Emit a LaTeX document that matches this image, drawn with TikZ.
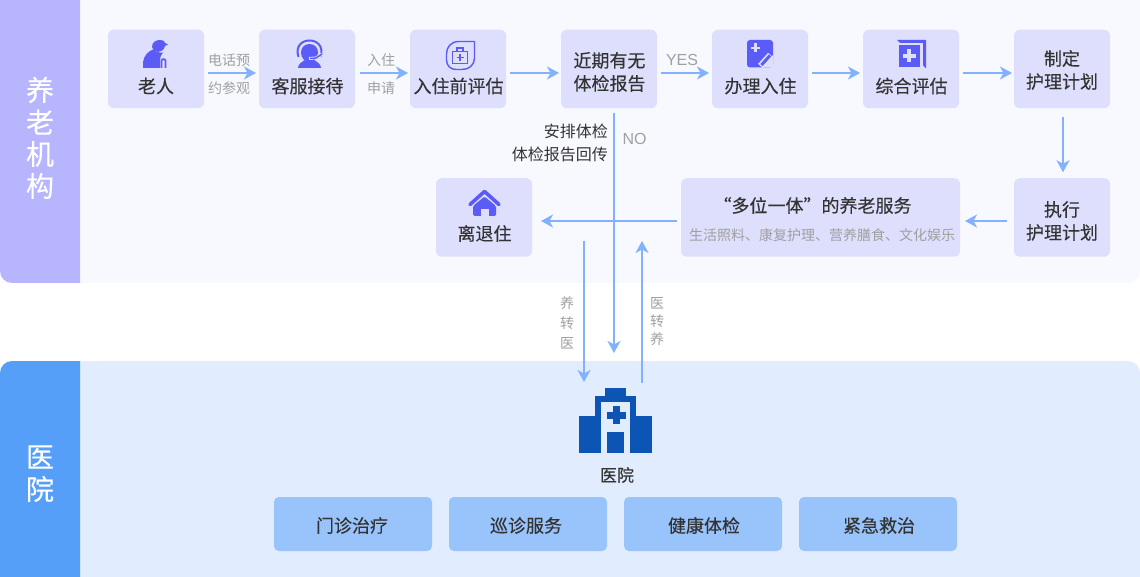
\documentclass[tikz,border=0pt]{standalone}
\usepackage{fontspec}
\setmainfont{Noto Sans CJK SC}
\newfontfamily\medfont{Noto Sans CJK SC}[FakeBold=0.22]
\newfontfamily\latinfont{Liberation Sans}
\usetikzlibrary{arrows.meta}
\definecolor{bandA}{HTML}{B8B5FF}
\definecolor{bandB}{HTML}{569FF9}
\definecolor{panelA}{HTML}{F8F9FF}
\definecolor{panelB}{HTML}{E1EDFF}
\definecolor{boxA}{HTML}{DEDEFD}
\definecolor{boxB}{HTML}{99C3FB}
\definecolor{iconA}{HTML}{5B5BF6}
\definecolor{iconB}{HTML}{0D55B5}
\definecolor{lineC}{HTML}{82B1FF}
\definecolor{inkA}{HTML}{333333}
\definecolor{inkB}{HTML}{A0A0A0}
\newcommand{\fs}[1]{\fontsize{#1pt}{#1pt}\selectfont}
\tikzset{
  x=1pt,y=-1pt,
  boxbase/.style={rectangle,rounded corners=6pt,inner sep=0pt,outer sep=0pt,fill=boxA},
  smallbox/.style={boxbase,minimum width=96pt,minimum height=78.5pt},
  btnbox/.style={rectangle,rounded corners=5pt,inner sep=0pt,fill=boxB,minimum width=158pt,minimum height=54pt},
  maintxt/.style={inner sep=0pt,text=inkA,font=\medfont\fs{18},align=center},
  grey/.style={inner sep=0pt,text=inkB,font=\fs{14}},
  greylatin/.style={inner sep=0pt,text=inkB,font=\latinfont\fs{16}},
  dark/.style={inner sep=0pt,text=inkA,font=\fs{16}},
  sidetxt/.style={inner sep=0pt,text=white,font=\medfont\fs{28}},
  conn/.style={draw=lineC,line width=1.8pt,-{Stealth[length=12pt,width=13pt,inset=3.5pt]}},
}
\begin{document}
\begin{tikzpicture}
\useasboundingbox (0,0) rectangle (1140,577);
\fill[white] (0,0) rectangle (1140,577);
% panels
\fill[panelA] (80,0) -- (1140,0) [rounded corners=12pt] -- (1140,283) [sharp corners] -- (80,283) -- cycle;
\fill[bandA] (80,0) -- (0,0) [rounded corners=12pt] -- (0,283) [sharp corners] -- (80,283) -- cycle;
\fill[panelB] (80,577) -- (1140,577) [rounded corners=12pt] -- (1140,361) [sharp corners] -- (80,361) -- cycle;
\fill[bandB] (80,577) -- (0,577) [rounded corners=12pt] -- (0,361) [sharp corners] -- (80,361) -- cycle;
% side labels
\node[sidetxt] (sa1) at (40,90) {养};
\node[sidetxt] (sa2) at (40,122) {老};
\node[sidetxt] (sa3) at (40,154) {机};
\node[sidetxt] (sa4) at (40,186) {构};
\node[sidetxt] (sb1) at (40,457) {医};
\node[sidetxt] (sb2) at (40,489) {院};
% top row
\node[smallbox] (elder) at (156,69) {};
\node[smallbox] (service) at (307,69) {};
\node[smallbox] (assess) at (458,69) {};
\node[smallbox] (recent) at (609,69) {};
\node[smallbox] (checkin) at (760,69) {};
\node[smallbox] (general) at (911,69) {};
\node[smallbox] (plan) at (1062,69) {};
\node[maintxt] (elderT) at (156,86) {老人};
\node[maintxt] (serviceT) at (307.5,86) {客服接待};
\node[maintxt] (assessT) at (458.5,86) {入住前评估};
\node[maintxt] (recentT) at (609.5,72) {近期有无\\[5pt]体检报告};
\node[maintxt] (checkinT) at (760.5,86) {办理入住};
\node[maintxt] (generalT) at (911.5,86) {综合评估};
\node[maintxt] (planT) at (1062,70) {制定\\[5pt]护理计划};
% second row
\node[smallbox] (leave) at (484,217.5) {};
\node[maintxt] (leaveT) at (484.5,233.5) {离退住};
\node[boxbase,minimum width=279pt,minimum height=78.5pt] (duo) at (820.5,217.5) {};
\node[maintxt] (duoT) at (812.5,205.5) {“多位一体”的养老服务};
\node[grey] (duoS) at (822,235) {生活照料、康复护理、营养膳食、文化娱乐};
\node[smallbox] (exec) at (1062,217.5) {};
\node[maintxt] (execT) at (1062,221) {执行\\[5pt]护理计划};
% hospital label + buttons
\node[maintxt,font=\medfont\fs{17}] (hospT) at (617,475) {医院};
\node[btnbox] (b1) at (353,524) {};
\node[btnbox] (b2) at (528,524) {};
\node[btnbox] (b3) at (703,524) {};
\node[btnbox] (b4) at (878,524) {};
\node[maintxt] (b1T) at (352,525.5) {门诊治疗};
\node[maintxt] (b2T) at (526,525.5) {巡诊服务};
\node[maintxt] (b3T) at (704,525.5) {健康体检};
\node[maintxt] (b4T) at (879,525.5) {紧急救治};
% labels on connectors
\node[grey] (l1) at (229,60) {电话预};
\node[grey] (l2) at (229,88) {约参观};
\node[grey] (l3) at (381,60) {入住};
\node[grey] (l4) at (381,88) {申请};
\node[greylatin] (l5) at (682,60) {YES};
\node[greylatin] (l6) at (634.5,139) {NO};
\node[dark,anchor=east] (l7) at (608,131.5) {安排体检};
\node[dark,anchor=east] (l8) at (608,154.5) {体检报告回传};
\node[grey] (m1) at (567,303) {养};
\node[grey] (m2) at (567,323) {转};
\node[grey] (m3) at (567,343) {医};
\node[grey] (m4) at (657,303) {医};
\node[grey] (m5) at (657,321) {转};
\node[grey] (m6) at (657,339) {养};
% free connector ends
\coordinate (noEnd) at (614,353);
\coordinate (upStart) at (642,383);
\coordinate (upEnd) at (642,241);
\coordinate (downStart) at (584,241);
\coordinate (downEnd) at (584,382);
% connectors
\draw[conn] ([shift={(4,4)}]elder.east) -- ([shift={(-3,4)}]service.west);
\draw[conn] ([shift={(5,4)}]service.east) -- ([shift={(-2,4)}]assess.west);
\draw[conn] ([shift={(4,4)}]assess.east) -- ([shift={(-2,4)}]recent.west);
\draw[conn] ([shift={(4,4)}]recent.east) -- ([shift={(-3,4)}]checkin.west);
\draw[conn] ([shift={(4,4)}]checkin.east) -- ([shift={(-3,4)}]general.west);
\draw[conn] ([shift={(4,4)}]general.east) -- ([shift={(-2,4)}]plan.west);
\draw[conn] ([shift={(1,9)}]plan.south) -- ([shift={(1,-6)}]exec.north);
\draw[conn] ([shift={(-7,3.5)}]exec.west) -- ([shift={(5,3.5)}]duo.east);
\draw[conn] ([shift={(-4,3.5)}]duo.west) -- ([shift={(9,3.5)}]leave.east);
\draw[conn] ([shift={(5,5)}]recent.south) -- (noEnd);
\draw[conn] (downStart) -- (downEnd);
\draw[conn] (upStart) -- (upEnd);
% --- icons ---
% elder
\fill[iconA] (143,68) -- (143,62) .. controls (144,55) and (149,51) .. (153,49.5) .. controls (156,52) and (160,53) .. (163,52.5) .. controls (161,55) and (160,57) .. (160,60) -- (160,68) -- cycle;
\fill[iconA] (152,47) .. controls (152,42) and (156,40) .. (160,40) .. controls (163,40) and (165,41) .. (165,43) -- (168,44.5) -- (165,46) .. controls (164,50) and (161,52) .. (158,52) .. controls (155,52) and (152,50) .. (152,47) -- cycle;
\draw[iconA,line width=1.8pt] (161.5,68) -- (161.5,61) .. controls (161.5,58.5) and (165.5,58.5) .. (165.5,61) -- (165.5,68);
% headset
\draw[iconA,line width=2pt] (298.5,57) .. controls (295,46) and (302,40.5) .. (309.5,40.5) .. controls (317,40.5) and (324,46) .. (320.5,57);
\fill[iconA] (309.5,44) .. controls (315,44) and (318,48) .. (318,52.5) .. controls (318,58) and (313.5,62) .. (309.5,62) .. controls (305,62) and (301,58) .. (301,52.5) .. controls (301,48) and (304,44) .. (309.5,44) -- cycle;
\fill[iconA] (298,68) .. controls (298,64) and (302,62) .. (305,60) -- (314,60) .. controls (317,62) and (321,64) .. (321,68) -- cycle;
\draw[boxA,line width=3pt] (309,58.5) -- (316,58) -- (322,54);
\draw[iconA,line width=1.4pt] (310,58.5) -- (316,58) -- (322,54);
% leaf case
\draw[iconA,line width=1.4pt,line join=round] (474.5,41.5) -- (459,41.5) .. controls (451,41.5) and (446.5,47) .. (446.5,54) -- (446.5,60) .. controls (446.5,66) and (451,69.5) .. (456,69.5) -- (462,69.5) .. controls (469,69.5) and (474.5,65) .. (474.5,58) -- cycle;
\draw[iconA,line width=1.3pt] (452.5,51.5) rectangle (467.5,63.5);
\draw[iconA,line width=1.3pt] (457,51.5) -- (457,48) -- (463,48) -- (463,51.5);
\draw[iconA,line width=1.2pt] (456.5,57.5) -- (463.5,57.5) (460,54) -- (460,61);
% note
\fill[iconA,rounded corners=3pt] (747,40) rectangle (773,67.5);
\draw[boxA,line width=2.2pt] (751,48) -- (760,48) (755.5,43.5) -- (755.5,52.5);
\fill[boxA] (773,67.5) -- (773,55) -- (762,67.5) -- cycle;
\draw[boxA,line width=6.5pt] (760.5,66) -- (770.5,55);
\draw[iconA,line width=3pt] (761.5,65) -- (770,55.5);
% general
\fill[iconA] (897,40) -- (926,40) -- (926,68.5) -- (923,65.5) -- (923,43) -- (900,43) -- cycle;
\fill[iconA] (898.5,45.5) rectangle (920,67);
\draw[boxA,line width=4pt] (902.5,56) -- (916,56) (909.2,49.5) -- (909.2,62.5);
% house
\draw[iconA,line width=3.6pt,line cap=round,line join=round] (470,204.5) -- (484.5,191.5) -- (499,204.5);
\fill[iconA,rounded corners=1.5pt] (473,216) -- (473,206) -- (484.5,196.5) -- (496,206) -- (496,216) -- cycle;
\fill[boxA] (480.5,216.5) rectangle (488.5,209);
% hospital
\fill[iconB] (605,388) rectangle (626,396);
\fill[iconB] (595,396) rectangle (636,453);
\fill[iconB] (579,416) rectangle (652,453);
\fill[panelB] (601,402) rectangle (630,453);
\fill[iconB] (613,406) rectangle (620,424);
\fill[iconB] (607,411.5) rectangle (626,418.5);
\fill[iconB] (607,432) rectangle (624,453);
\end{tikzpicture}
\end{document}
